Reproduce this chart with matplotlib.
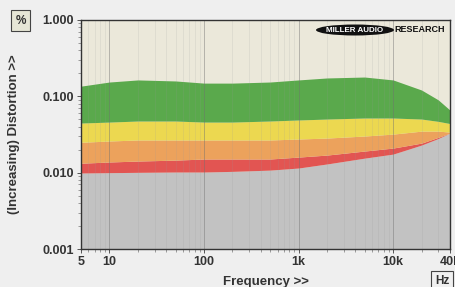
import matplotlib
matplotlib.use("Agg")
import matplotlib.pyplot as plt
from matplotlib.ticker import FixedLocator, NullFormatter
from matplotlib.patches import Ellipse

# Data
freq = [5, 10, 20, 50, 100, 200, 500, 1000, 2000, 5000, 10000, 20000, 30000, 40000]
green_top = [0.136, 0.154, 0.164, 0.159, 0.149, 0.149, 0.154, 0.164, 0.174, 0.179, 0.164, 0.121, 0.090, 0.066]
green_bottom = [0.0447, 0.046, 0.0475, 0.0475, 0.046, 0.046, 0.0475, 0.049, 0.0504, 0.052, 0.052, 0.0504, 0.047, 0.044]
yellow_bottom = [0.025, 0.026, 0.0268, 0.0268, 0.0268, 0.0268, 0.0268, 0.0276, 0.0284, 0.0302, 0.032, 0.035, 0.035, 0.034]
orange_bottom = [0.0133, 0.0138, 0.0142, 0.0146, 0.0151, 0.0151, 0.0151, 0.0160, 0.0170, 0.0192, 0.0210, 0.0244, 0.029, 0.033]
red_bottom = [0.0099, 0.0100, 0.0101, 0.0102, 0.0102, 0.0104, 0.0108, 0.0115, 0.0130, 0.0155, 0.0175, 0.023, 0.028, 0.033]

xticks = [5, 10, 100, 1000, 10000, 40000]
xticklabels = ["5", "10", "100", "1k", "10k", "40k"]
yticks = [0.001, 0.01, 0.1, 1.0]
yticklabels = ["0.001", "0.010", "0.100", "1.000"]

plt.rcParams['font.family'] = ['Liberation Sans', 'DejaVu Sans']

fig = plt.figure(figsize=(4.56, 2.87), dpi=100)
fig.patch.set_facecolor("#efefef")
ax = fig.add_axes([81/456, 1-249/287, (450-81)/456, (249-20)/287])
ax.set_facecolor("#ebe8da")
ax.set_xscale("log")
ax.set_yscale("log")
ax.set_xlim(5, 40000)
ax.set_ylim(0.001, 1.0)

ax.fill_between(freq, 0.001, red_bottom, color="#c2c2c2", lw=0, zorder=1)
ax.fill_between(freq, red_bottom, orange_bottom, color="#e25552", lw=0, zorder=1)
ax.fill_between(freq, orange_bottom, yellow_bottom, color="#eca25c", lw=0, zorder=1)
ax.fill_between(freq, yellow_bottom, green_bottom, color="#ecd850", lw=0, zorder=1)
ax.fill_between(freq, green_bottom, green_top, color="#5aa94c", lw=0, zorder=1)

# vertical grid lines
minor = []
for d in [1, 10, 100, 1000, 10000]:
    for m in range(1, 10):
        v = d * m
        if 5 <= v <= 40000:
            minor.append(v)
for v in minor:
    major = v in (10, 100, 1000, 10000)
    ax.axvline(v, color="#707070" if major else "#9a9a9a",
               alpha=0.45 if major else 0.22, lw=0.7 if major else 0.5, zorder=2)

ax.xaxis.set_major_locator(FixedLocator(xticks))
ax.set_xticklabels(xticklabels)
ax.xaxis.set_minor_locator(FixedLocator(minor))
ax.xaxis.set_minor_formatter(NullFormatter())
ax.yaxis.set_major_locator(FixedLocator(yticks))
ax.set_yticklabels(yticklabels)
ymin = [m * d for d in [0.001, 0.01, 0.1] for m in range(2, 10)]
ax.yaxis.set_minor_locator(FixedLocator(ymin))
ax.yaxis.set_minor_formatter(NullFormatter())

ax.tick_params(axis="both", which="major", length=3, width=0.7, colors="#555555",
               labelcolor="#333333", labelsize=9, pad=2)
ax.tick_params(axis="both", which="minor", length=2, width=0.5, colors="#777777")
for lab in ax.get_xticklabels() + ax.get_yticklabels():
    lab.set_fontweight("bold")

for s in ax.spines.values():
    s.set_color("#333333")
    s.set_linewidth(1.0)
    s.set_zorder(5)

ax.set_xlabel("Frequency >>", fontsize=9.5, fontweight="bold", color="#333333", labelpad=6)
ax.set_ylabel("(Increasing) Distortion >>", fontsize=9.5, fontweight="bold", color="#333333")
ax.yaxis.set_label_coords((20 - 81) / 369, 0.5)

# % box and Hz box
fig.text(20.5/456, 1-20.5/287, "%", ha="center", va="center", fontsize=8.5, fontweight="bold",
         color="#333333", bbox=dict(boxstyle="square,pad=0.35", fc="#e6e6d6", ec="#444444", lw=0.8))
fig.text(442/456, 1-281/287, "Hz", ha="center", va="center", fontsize=8.5, fontweight="bold",
         color="#333333", bbox=dict(boxstyle="square,pad=0.3", fc="#f0f0f0", ec="#444444", lw=0.8))

# logo
fig.add_artist(Ellipse((355/456, 1-30/287), 78/456, 11/287, transform=fig.transFigure,
                       fc="#111111", ec="none", zorder=6))
fig.text(355/456, 1-30/287, "MILLER AUDIO", ha="center", va="center", fontsize=5.8,
         fontweight="bold", color="white", zorder=7)
fig.text(420/456, 1-30/287, "RESEARCH", ha="center", va="center", fontsize=6.5,
         fontweight="bold", color="#111111", zorder=7)

fig.savefig("out.png", dpi=100, facecolor=fig.get_facecolor())
